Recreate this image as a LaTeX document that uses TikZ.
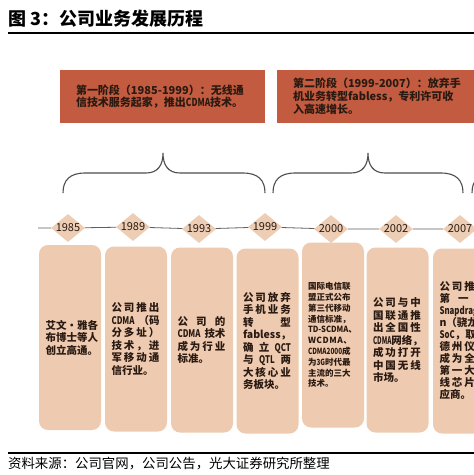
\documentclass[tikz,border=0pt]{standalone}
\usepackage{fontspec}
\usepackage{graphicx}
\setmainfont{Noto Sans CJK SC}
\usetikzlibrary{shapes.geometric}
\newcommand\lat[1]{\scalebox{0.75}[1]{#1}}
\newcommand\spreadln[2][48pt]{\makebox[#1][l]{#2}}
\definecolor{stagered}{HTML}{C25B3F}
\definecolor{peach}{HTML}{EECBB0}
\definecolor{dia}{HTML}{EDCDB4}
\definecolor{ink}{HTML}{2A1A12}
\definecolor{bracegray}{HTML}{4D4D4D}
\begin{document}
\begin{tikzpicture}[x=1pt,y=-1pt,
  stagebox/.style={fill=stagered, draw=none, minimum width=205pt, minimum height=53pt, text width=172pt, align=left, inner sep=0pt, text=ink, font=\fontsize{11}{12.5}\selectfont\bfseries},
  yearmark/.style={shape=diamond, fill=dia, draw=none, minimum width=34pt, minimum height=28pt, inner sep=0pt},
  yeartext/.style={inner sep=0pt, text=ink, font=\fontsize{11}{11}\selectfont},
  card/.style={fill=peach, rounded corners=9pt, minimum width=62pt, minimum height=185pt, text width=49pt, align=left, inner sep=0pt, text=ink, font=\fontsize{10.5}{12.5}\selectfont\bfseries},
  smallcard/.style={card, text width=50pt, font=\fontsize{8.5}{10.8}\selectfont\bfseries},
  tline/.style={draw=gray!75!black, line width=0.8pt},
  bracepath/.style={draw=bracegray, line width=1.1pt},
]
\useasboundingbox (0,0) rectangle (474,475);
\clip (0,0) rectangle (474,475);
\fill[white] (0,0) rectangle (474,475);

% title
\node[anchor=west, inner sep=0pt, font=\fontsize{18}{18}\selectfont\bfseries] (title) at (8,19) {图 3：公司业务发展历程};
\draw[line width=1.6pt] (8,33) -- (474,33);

% stages
\node[stagebox] (s1) at (162,96.5) {第一阶段（1985-1999）：无线通\\信技术服务起家，推出\lat{CDMA}技术。};
\node[stagebox, font=\fontsize{11}{13}\selectfont\bfseries] (s2) at (379,96) {第二阶段（1999-2007）：放弃手\\机业务转型fabless，专利许可收\\入高速增长。};

% braces
\draw[bracepath] (63,193) .. controls (63,180) and (70,173) .. (85,173) -- (146,173)
  .. controls (158,173) and (163,165) .. (163,153)
  .. controls (163,165) and (168,173) .. (180,173) -- (243,173)
  .. controls (258,173) and (265,180) .. (265,193);
\draw[bracepath] (273,193) .. controls (273,180) and (280,173) .. (295,173) -- (351,173)
  .. controls (363,173) and (368,165) .. (368,153)
  .. controls (368,165) and (373,173) .. (385,173) -- (441,173)
  .. controls (456,173) and (463,180) .. (463,193);
\draw[bracepath] (472,193) .. controls (472,180) and (479,173) .. (494,173) -- (540,173);

% timeline
\coordinate (tl0) at (38,228);
\coordinate (tl8) at (480,228);
\node[yearmark] (d1) at (68,228) {};
\node[yearmark] (d2) at (133,227) {};
\node[yearmark] (d3) at (199,229) {};
\node[yearmark] (d4) at (265,227) {};
\node[yearmark] (d5) at (331,229) {};
\node[yearmark] (d6) at (396,229) {};
\node[yearmark] (d7) at (460,229) {};
\draw[tline] (tl0) -- (d1) -- (d2) -- (d3) -- (d4) -- (d5) -- (d6) -- (d7) -- (tl8);
\node[yeartext] at (d1) {1985};
\node[yeartext] at (d2) {1989};
\node[yeartext] at (d3) {1993};
\node[yeartext] at (d4) {1999};
\node[yeartext] at (d5) {2000};
\node[yeartext] at (d6) {2002};
\node[yeartext] at (d7) {2007};

% cards
\node[card] (c1) at (70,337.5) {\spreadln[50pt]{艾文\hfill·\hfill 雅各}\\布博士等人\\创立高通。};
\node[card] (c2) at (136,339) {\spreadln{公\hfill 司\hfill 推\hfill 出}\\\spreadln{\lat{CDMA}\hfill（码}\\\spreadln{分\hfill 多\hfill 址\hfill ）}\\\spreadln{技\hfill 术\hfill ，\hfill 进}\\\spreadln{军\hfill 移\hfill 动\hfill 通}\\信行业。};
\node[card] (c3) at (202,340) {\spreadln{公\hfill 司\hfill 的}\\\spreadln{\lat{CDMA}\hfill 技术}\\\spreadln{成\hfill 为\hfill 行\hfill 业}\\标准。};
\node[card] (c4) at (267.5,341) {\spreadln{公\hfill 司\hfill 放\hfill 弃}\\\spreadln{手\hfill 机\hfill 业\hfill 务}\\\spreadln{转\hfill 型}\\\spreadln{fabless，}\\\spreadln{确\hfill 立\hfill \lat{QCT}}\\\spreadln{与\hfill \lat{QTL}\hfill 两}\\\spreadln{大\hfill 核\hfill 心\hfill 业}\\务板块。};
\node[smallcard] (c5) at (333,335) {国际电信联\\盟正式公布\\第三代移动\\通信标准，\\\mbox{\scalebox{0.9}[1]{TD-SCDMA}、}\\\spreadln[44pt]{W\hfill C\hfill D\hfill M\hfill A\hfill 、}\\\lat{CDMA2000}成\\为\lat{3G}时代最\\主流的三大\\技术。};
\node[card] (c6) at (397.5,340) {\spreadln{公\hfill 司\hfill 与\hfill 中}\\\spreadln{国\hfill 联\hfill 通\hfill 推}\\\spreadln{出\hfill 全\hfill 国\hfill 性}\\\spreadln{\scalebox{0.6}[1]{CDMA}\hfill 网络，}\\\spreadln{成\hfill 功\hfill 打\hfill 开}\\\spreadln{中\hfill 国\hfill 无\hfill 线}\\市场。};
\node[card, font=\fontsize{10.5}{12}\selectfont\bfseries] (c7) at (464,341) {\spreadln{公\hfill 司\hfill 推\hfill 出}\\\spreadln{第\hfill 一\hfill 款}\\\lat{Snapdrago}\\n（骁龙）\\\lat{SoC}，取代\\\spreadln{德\hfill 州\hfill 仪\hfill 器}\\\spreadln{成\hfill 为\hfill 全\hfill 球}\\\spreadln{第\hfill 一\hfill 大\hfill 无}\\\spreadln{线\hfill 芯\hfill 片\hfill 供}\\应商。};

% source
\draw[line width=1.2pt] (8,453) -- (474,453);
\node[anchor=west, inner sep=0pt, font=\fontsize{13.4}{13.4}\selectfont] (src) at (8,464) {资料来源：公司官网，公司公告，光大证券研究所整理};
\end{tikzpicture}
\end{document}
